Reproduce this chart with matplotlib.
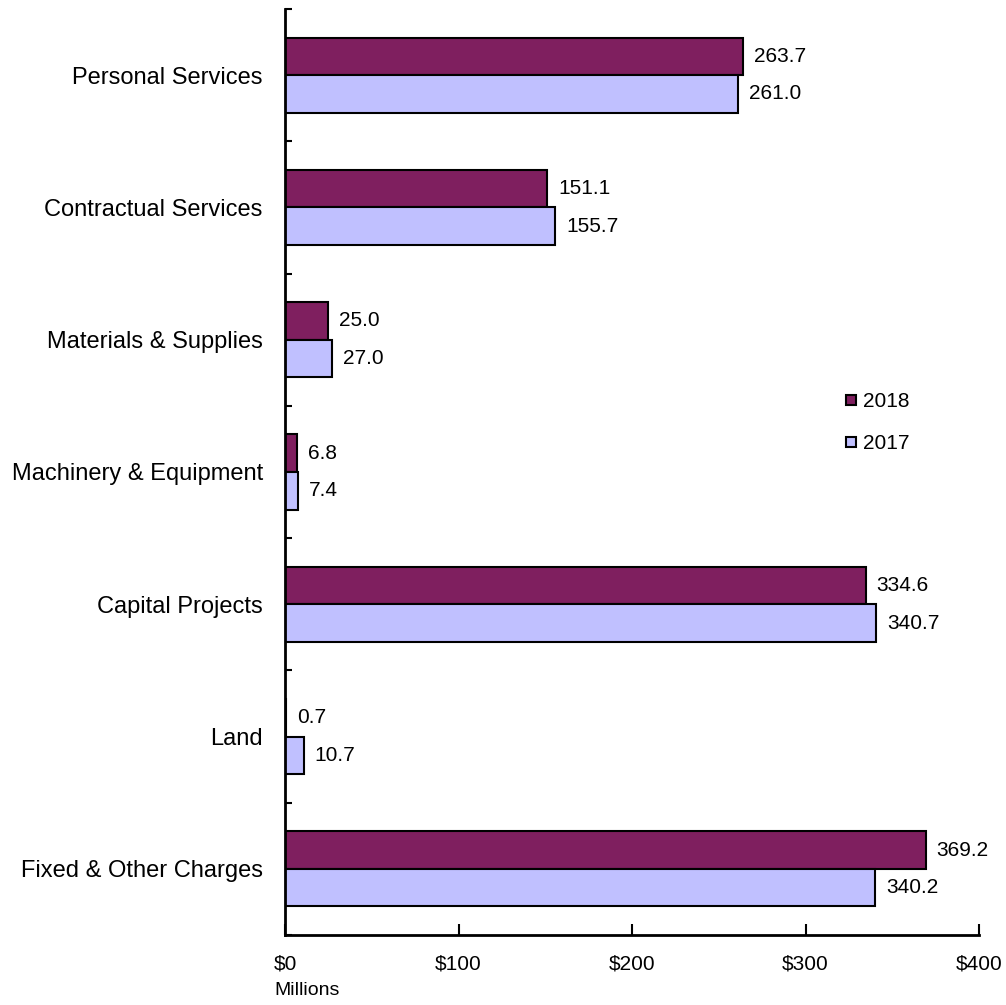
import matplotlib
matplotlib.use('Agg')
import matplotlib.pyplot as plt
from matplotlib.lines import Line2D
from matplotlib.ticker import FixedLocator

# spending by category, millions of dollars
categories = ['Personal Services', 'Contractual Services', 'Materials & Supplies',
              'Machinery & Equipment', 'Capital Projects', 'Land', 'Fixed & Other Charges']
values_2018 = [263.7, 151.1, 25.0, 6.8, 334.6, 0.7, 369.2]
values_2017 = [261.0, 155.7, 27.0, 7.4, 340.7, 10.7, 340.2]
x_ticks = [0, 100, 200, 300, 400]
x_tick_labels = ['$0', '$100', '$200', '$300', '$400']

plt.rcParams['font.family'] = ['Liberation Sans', 'DejaVu Sans']

fig = plt.figure(figsize=(10.06, 10.05), dpi=100)
ax = fig.add_axes([0.2833, 0.0697, 0.6899, 0.9213])

h = 0.284
pos = list(range(len(categories)))
bars18 = ax.barh([p - h / 2 for p in pos], values_2018, height=h, color='#7f1f5f',
                 edgecolor='black', linewidth=1.5)
bars17 = ax.barh([p + h / 2 for p in pos], values_2017, height=h, color='#c0c0ff',
                 edgecolor='black', linewidth=1.5)

for bars, vals in ((bars18, values_2018), (bars17, values_2017)):
    for b, v in zip(bars, vals):
        ax.annotate(f'{v:.1f}', (v, b.get_y() + b.get_height() / 2),
                    xytext=(8, 0), textcoords='offset points',
                    ha='left', va='center', fontsize=15)

ax.set_xlim(0, 400)
ax.set_ylim(len(categories) - 0.5, -0.5)
ax.set_xticks(x_ticks)
ax.set_xticklabels(x_tick_labels, fontsize=15)
ax.set_yticks(pos)
ax.set_yticklabels(categories, fontsize=17)
ax.yaxis.set_minor_locator(FixedLocator([p - 0.5 for p in range(len(categories) + 1)]))
ax.tick_params(axis='y', which='major', length=0, pad=16)
ax.tick_params(axis='y', which='minor', direction='in', length=5, width=1.5)
ax.tick_params(axis='x', direction='in', length=8, width=1.5, pad=14)

for side in ('top', 'right'):
    ax.spines[side].set_visible(False)
for side in ('left', 'bottom'):
    ax.spines[side].set_linewidth(2)

ax.text(-0.016, -0.06, 'Millions', transform=ax.transAxes, fontsize=14,
        ha='left', va='center')

# small square swatches for the legend
handles = [Line2D([], [], linestyle='none', marker='s', markersize=7,
                  markerfacecolor=c, markeredgecolor='black', markeredgewidth=1.5)
           for c in ('#7f1f5f', '#c0c0ff')]
ax.legend(handles, ['2018', '2017'], loc='center left',
          bbox_to_anchor=(0.78, 0.553), frameon=False, fontsize=15,
          handlelength=0.6, handletextpad=0.25, labelspacing=1.1)

fig.savefig('out.png', dpi=100)
